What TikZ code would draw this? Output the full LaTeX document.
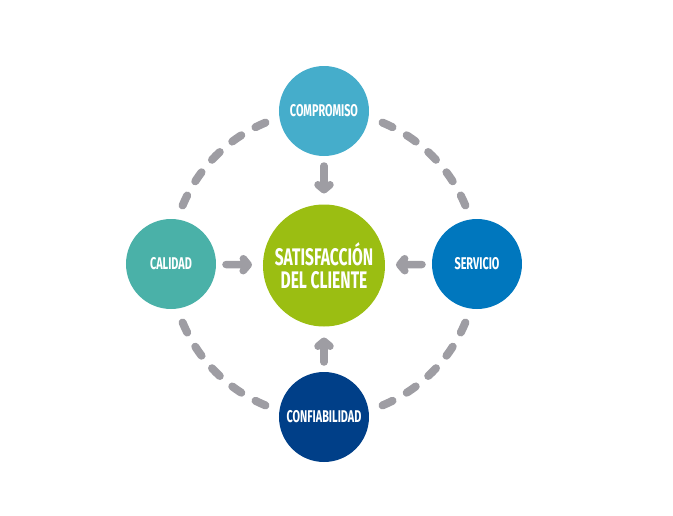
\documentclass[tikz,border=0pt]{standalone}
\usepackage{fontspec}
\setmainfont{Fira Sans}
\newfontfamily\kcond{Fira Sans}[FakeStretch=0.64]
\newfontfamily\kcondmain{Fira Sans}[FakeStretch=0.65]
\usetikzlibrary{arrows.meta}
\definecolor{kgris}{HTML}{9E9DA3}
\definecolor{kverde}{HTML}{9BBE12}
\definecolor{kcomp}{HTML}{45ADCB}
\definecolor{kcal}{HTML}{4AB1A8}
\definecolor{kserv}{HTML}{0077BE}
\definecolor{kconf}{HTML}{003F88}
\tikzset{
  kmain/.style={circle,fill=kverde,minimum size=122pt,inner sep=0pt,outer sep=0pt,text=white,align=center,font=\kcondmain\bfseries\fontsize{24}{23}\selectfont},
  kaux/.style={circle,minimum size=90pt,inner sep=0pt,outer sep=0pt,text=white,font=\kcond\bfseries\fontsize{17}{17}\selectfont},
  kflow/.style={draw=kgris,line width=7.5pt,line cap=round,shorten <=10pt,shorten >=11pt,-{Straight Barb[length=5pt,width=12pt,line cap=round,line join=round]}},
  kring/.style={draw=kgris,line width=8pt,line cap=round,dash pattern=on 11pt off 16.3pt}
}
\begin{document}
\begin{tikzpicture}[x=1pt,y=1pt]
\pgfmathsetmacro{\krad}{153}
\useasboundingbox (-324,-251) rectangle (349,264);
\node[kmain] (sat) at (0,-1.5) {SATISFACCIÓN\\DEL CLIENTE};
\foreach \kang/\kname/\kcol/\klb in {90/comp/kcomp/COMPROMISO,180/cal/kcal/CALIDAD,0/serv/kserv/SERVICIO,270/conf/kconf/CONFIABILIDAD}{\node[kaux,fill=\kcol] (\kname) at (\kang:\krad) {\klb};}
\foreach \kname in {comp,cal,serv,conf}{\draw[kflow] (\kname) -- (sat);}
\foreach \kang in {22.5,112.5,202.5,292.5}{\draw[kring] (\kang:\krad) arc[start angle=\kang,delta angle=45,radius=\krad];}
\end{tikzpicture}
\end{document}
